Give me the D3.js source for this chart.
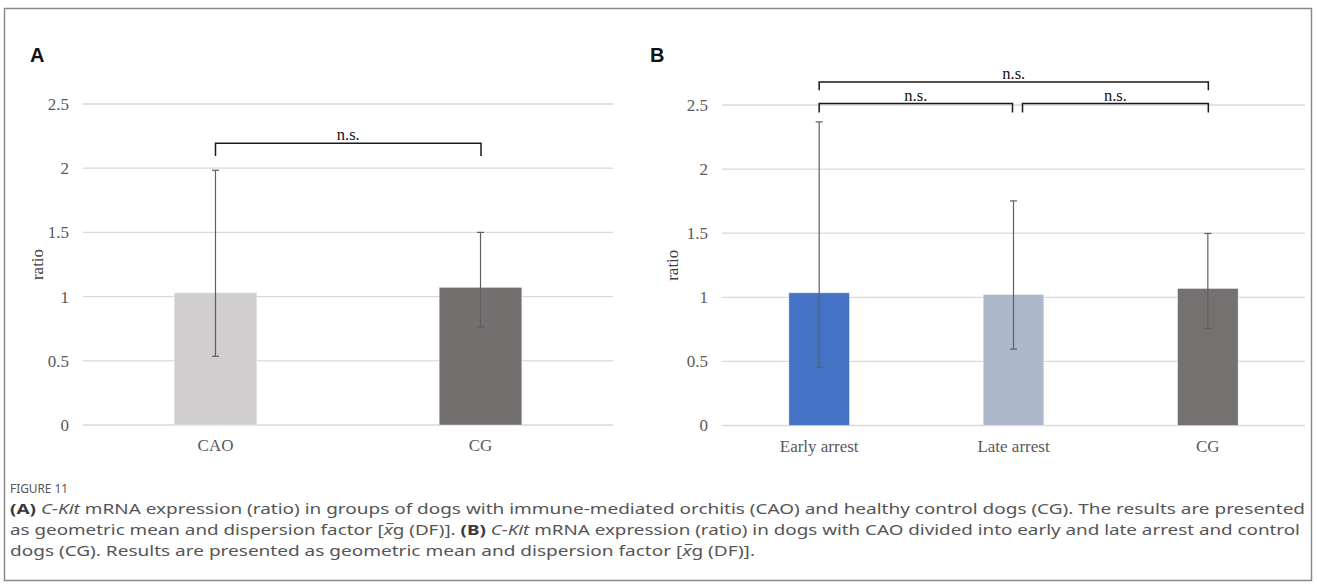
<!DOCTYPE html>
<html>
<head>
<meta charset="utf-8">
<script src="https://cdn.jsdelivr.net/npm/d3@7"></script>
<style>
  body { margin: 0; background: #fff; }
  svg { display: block; }
</style>
</head>
<body>
<div id="figure"></div>
<script>
// Panel A data
const groupsA = ["CAO", "CG"];
const meansA = [1.03, 1.072];
const upperA = [1.984, 1.5];
const lowerA = [0.535, 0.763];
const colorsA = ["#d0cecf", "#757070"];

// Panel B data
const groupsB = ["Early arrest", "Late arrest", "CG"];
const meansB = [1.035, 1.022, 1.069];
const upperB = [2.368, 1.752, 1.498];
const lowerB = [0.454, 0.596, 0.757];
const colorsB = ["#4472c4", "#adb9ca", "#767171"];

const yTicks = [0, 0.5, 1, 1.5, 2, 2.5];

// significance brackets (level = bar height, tip = where the ends stop)
const bracketsA = [{from: "CAO", to: "CG", level: 2.194, tip: 2.095, label: "n.s."}];
const bracketsB = [
    {from: "Early arrest", to: "CG", level: 2.68, tip: 2.615, label: "n.s."},
    {from: "Early arrest", to: "Late arrest", level: 2.511, tip: 2.441, label: "n.s."},
    {from: "Late arrest", to: "CG", level: 2.511, tip: 2.441, label: "n.s."}
];

const width = 1317, height = 587;

const svg = d3.select('#figure')
    .append('svg')
    .attr('width', width)
    .attr('height', height)
    .style('font-family', '"Liberation Serif", "Times New Roman", serif');

// outer frame
svg.append('rect')
    .attr('x', 4.5).attr('y', 8.5)
    .attr('width', 1307).attr('height', 572)
    .attr('fill', 'none')
    .attr('stroke', '#8a8a8a')
    .attr('stroke-width', 1.5);

function drawPanel(opts) {
    const g = svg.append('g');

    const xScale = d3.scaleBand()
        .domain(opts.groups)
        .range([opts.left, opts.right]);

    const yScale = d3.scaleLinear()
        .domain([0, 2.5])
        .range([opts.bottom, opts.top]);

    const barWidth = xScale.bandwidth() * 0.312;
    const cx = d => xScale(d) + xScale.bandwidth() / 2;

    // gridlines
    g.append('g')
        .selectAll('line')
        .data(yTicks)
        .enter().append('line')
        .attr('x1', opts.left)
        .attr('x2', opts.right)
        .attr('y1', d => yScale(d))
        .attr('y2', d => yScale(d))
        .attr('stroke', '#d9d9d9')
        .attr('stroke-width', 1.3);

    // y axis labels
    const yAxis = g.append('g')
        .attr('transform', `translate(${opts.left - 14},0)`)
        .call(d3.axisLeft(yScale).tickValues(yTicks).tickSize(0).tickPadding(0).tickFormat(d => d));
    yAxis.select('.domain').remove();
    yAxis.attr('font-size', 17).attr('font-family', '"Liberation Serif", serif');
    yAxis.selectAll('text').attr('fill', '#595959');

    // x axis labels
    const xAxis = g.append('g')
        .attr('transform', `translate(0,${opts.bottom})`)
        .call(d3.axisBottom(xScale).tickSize(0).tickPadding(14));
    xAxis.select('.domain').remove();
    xAxis.attr('font-size', 17).attr('font-family', '"Liberation Serif", serif');
    xAxis.selectAll('text').attr('fill', '#595959');

    // bars
    g.append('g')
        .selectAll('rect')
        .data(opts.groups)
        .enter().append('rect')
        .attr('x', d => cx(d) - barWidth / 2)
        .attr('width', barWidth)
        .attr('y', (d, i) => yScale(opts.means[i]))
        .attr('height', (d, i) => yScale(0) - yScale(opts.means[i]))
        .attr('fill', (d, i) => opts.colors[i])
        .attr('stroke', '#ffffff')
        .attr('stroke-opacity', 0.5)
        .attr('stroke-width', 0.8);

    // error bars
    const err = g.append('g')
        .attr('stroke', '#5f5f5f')
        .attr('stroke-width', 1.2);
    opts.groups.forEach((d, i) => {
        const x = cx(d);
        err.append('line')
            .attr('x1', x).attr('x2', x)
            .attr('y1', yScale(opts.upper[i]))
            .attr('y2', yScale(opts.lower[i]));
        [opts.upper[i], opts.lower[i]].forEach(v => {
            err.append('line')
                .attr('x1', x - 3.5).attr('x2', x + 3.5)
                .attr('y1', yScale(v)).attr('y2', yScale(v));
        });
    });

    // significance brackets
    const first = opts.groups[0], last = opts.groups[opts.groups.length - 1];
    opts.brackets.forEach(b => {
        const x1 = cx(b.from) + (b.from === first ? 0 : 9);
        const x2 = cx(b.to) + (b.to === last ? 0.5 : -1);
        const yl = yScale(b.level), yt = yScale(b.tip);
        g.append('path')
            .attr('d', `M${x1},${yt}V${yl}H${x2}V${yt}`)
            .attr('fill', 'none')
            .attr('stroke', '#1a1a1a')
            .attr('stroke-width', 1.5);
        g.append('text')
            .attr('x', (x1 + x2) / 2)
            .attr('y', yl - 3)
            .text(b.label)
            .style('text-anchor', 'middle')
            .style('font-size', '16.5px')
            .attr('fill', '#111');
    });

    // y axis title
    g.append('text')
        .attr('transform', `translate(${opts.titleX},${(opts.top + opts.bottom) / 2}) rotate(-90)`)
        .text('ratio')
        .style('text-anchor', 'middle')
        .style('font-size', '17px')
        .attr('fill', '#404040');

    // panel letter
    svg.append('text')
        .attr('x', opts.letterX)
        .attr('y', 62)
        .text(opts.letter)
        .style('font-family', '"Liberation Sans", Arial, sans-serif')
        .style('font-weight', 'bold')
        .style('font-size', '20px')
        .attr('fill', '#111');
}

drawPanel({
    groups: groupsA, means: meansA, upper: upperA, lower: lowerA, colors: colorsA,
    brackets: bracketsA, left: 83, right: 613, top: 104, bottom: 425,
    titleX: 43, letter: 'A', letterX: 30
});

drawPanel({
    groups: groupsB, means: meansB, upper: upperB, lower: lowerB, colors: colorsB,
    brackets: bracketsB, left: 722, right: 1305, top: 105, bottom: 425.5,
    titleX: 678, letter: 'B', letterX: 650
});

// caption
const cap = svg.append('g')
    .style('font-family', '"Noto Sans", "Open Sans", sans-serif')
    .attr('fill', '#555');

cap.append('text')
    .attr('x', 10).attr('y', 493)
    .text('FIGURE 11')
    .style('font-size', '13px')
    .attr('textLength', 58)
    .attr('lengthAdjust', 'spacingAndGlyphs');

const captionLines = [
    [["(A)", "b"], [" ", ""], ["C-Kit", "i"], [" mRNA expression (ratio) in groups of dogs with immune-mediated orchitis (CAO) and healthy control dogs (CG). The results are presented", ""]],
    [["as geometric mean and dispersion factor [", ""], ["x\u0305", "i"], ["g (DF)]. ", ""], ["(B)", "b"], [" ", ""], ["C-Kit", "i"], [" mRNA expression (ratio) in dogs with CAO divided into early and late arrest and control", ""]],
    [["dogs (CG). Results are presented as geometric mean and dispersion factor [", ""], ["x\u0305", "i"], ["g (DF)].", ""]]
];
const captionWidths = [1295, 1290, 745];

captionLines.forEach((parts, li) => {
    const t = cap.append('text')
        .attr('x', 10)
        .attr('y', 514 + li * 21)
        .style('font-size', '15px')
        .attr('textLength', captionWidths[li])
        .attr('lengthAdjust', 'spacingAndGlyphs');
    parts.forEach(p => {
        const s = t.append('tspan').text(p[0]);
        if (p[1] === 'b') s.style('font-weight', 'bold').attr('fill', '#3a3a3a');
        if (p[1] === 'i') s.style('font-style', 'italic');
    });
});
</script>
</body>
</html>
